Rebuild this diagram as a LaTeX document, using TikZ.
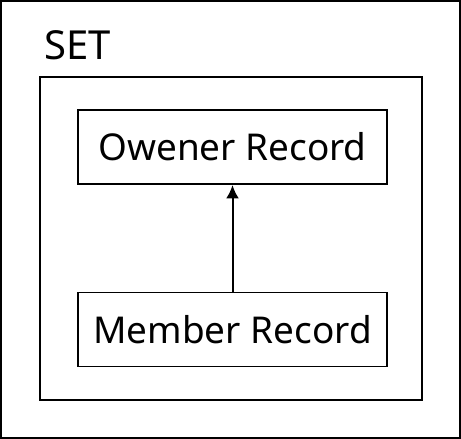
\documentclass[tikz,border=0pt]{standalone}
\usepackage{fontspec}
\setmainfont{Noto Sans}
\usetikzlibrary{positioning,arrows.meta}
\begin{document}
\begin{tikzpicture}[x=0.75pt,y=-0.75pt,
    frame/.style={draw, line width=1.4pt},
    record/.style={draw, line width=1.4pt, minimum width=231.75pt,
        minimum height=55.5pt, inner sep=0pt, font=\fontsize{27.7}{33}\selectfont}]
  \useasboundingbox (0,0) rectangle (461,439);
  % outer set frame
  \draw[frame] (1,1) rectangle (460,438);
  \node[anchor=base west, inner sep=0pt, font=\fontsize{30}{35}\selectfont] (setlabel) at (44,60) {SET};
  \draw[frame] (40,77) rectangle (422,400);
  % records
  \node[record] (owner) at (232.5,147) {Owener Record};
  \node[record] (member) at (232.5,329.5) {Member Record};
  \draw[line width=1.5pt, -{Latex[length=10pt,width=9.5pt]}] (member) -- (owner);
\end{tikzpicture}
\end{document}
